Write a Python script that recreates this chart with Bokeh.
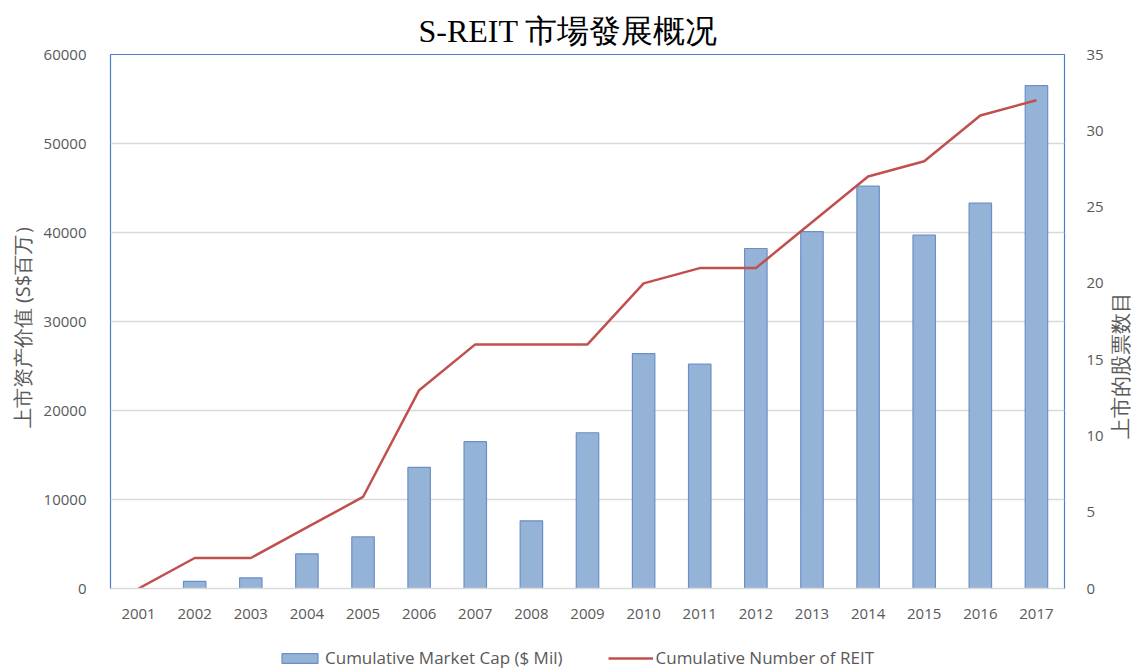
import math
from bokeh.plotting import figure
from bokeh.layouts import column, row
from bokeh.models import (ColumnDataSource, Range1d, LinearAxis, Title, Legend,
                          LegendItem, FixedTicker, NumeralTickFormatter, Label)
from bokeh.embed import file_html
from bokeh.resources import INLINE

years = ["2001", "2002", "2003", "2004", "2005", "2006", "2007", "2008", "2009",
         "2010", "2011", "2012", "2013", "2014", "2015", "2016", "2017"]
market_cap = [0, 800, 1200, 3900, 5800, 13600, 16500, 7600, 17500,
              26400, 25200, 38200, 40100, 45200, 39700, 43300, 56500]
num_reits = [0, 2, 2, 4, 6, 13, 16, 16, 16, 20, 21, 21, 24, 27, 28, 31, 32]

title_text = "S-REIT 市場發展概况"
left_label = "上市资产价值 (S$百万）"
right_label = "上市的股票数目"
bar_name = "Cumulative Market Cap ($ Mil)"
line_name = "Cumulative Number of REIT"

src = ColumnDataSource(dict(year=years, cap=market_cap, n=num_reits))

FONT = "Open Sans"
GRAY = "#595959"
BAR_FILL = "#95B3D7"
BAR_LINE = "#6A8FC8"
RED = "#C0504D"

# ---------------- main chart ----------------
p = figure(frame_width=954, frame_height=534, x_range=years, y_range=Range1d(0, 60000),
           output_backend="svg", toolbar_location=None,
           min_border_left=110, min_border_right=44, min_border_top=54,
           min_border_bottom=40)
p.title = None
p.extra_y_ranges = {"n": Range1d(0, 35)}

p.outline_line_color = "#4A7EC7"
p.outline_line_width = 1.2
p.background_fill_color = "white"
p.border_fill_color = "white"

p.xgrid.grid_line_color = None
p.ygrid.grid_line_color = "#D9D9D9"
p.ygrid.grid_line_width = 1.5
p.ygrid.ticker = FixedTicker(ticks=[0, 10000, 20000, 30000, 40000, 50000, 60000])

p.vbar(x="year", top="cap", width=0.4, source=src,
       fill_color=BAR_FILL, line_color=BAR_LINE, line_width=1.2)
p.line(x="year", y="n", source=src, y_range_name="n",
       line_color=RED, line_width=2.5)

# left axis
ya = p.yaxis[0]
ya.ticker = FixedTicker(ticks=[0, 10000, 20000, 30000, 40000, 50000, 60000])
ya.formatter = NumeralTickFormatter(format="0")
ya.axis_line_color = None
ya.major_tick_line_color = None
ya.minor_tick_line_color = None
ya.major_label_text_font = FONT
ya.major_label_text_font_size = "15px"
ya.major_label_text_color = GRAY
ya.major_label_standoff = 18
ya.axis_label = left_label
ya.axis_label_text_font = FONT
ya.axis_label_text_font_size = "20px"
ya.axis_label_text_font_style = "normal"
ya.axis_label_text_color = GRAY
ya.axis_label_standoff = 5

# x axis
xa = p.xaxis[0]
xa.axis_line_color = "#D9D9D9"
xa.axis_line_width = 1.5
xa.major_tick_line_color = None
xa.minor_tick_line_color = None
xa.major_label_text_font = FONT
xa.major_label_text_font_size = "15px"
xa.major_label_text_color = GRAY
xa.major_label_standoff = 14

# right axis
ra = LinearAxis(y_range_name="n", ticker=FixedTicker(ticks=[0, 5, 10, 15, 20, 25, 30, 35]))
ra.axis_line_color = None
ra.major_tick_line_color = None
ra.minor_tick_line_color = None
ra.major_label_text_font = FONT
ra.major_label_text_font_size = "15px"
ra.major_label_text_color = GRAY
ra.major_label_standoff = 16
p.add_layout(ra, "right")

# title
t = Title(text=title_text, align="left", offset=308,
          text_font="Liberation Serif", text_font_size="32px",
          text_font_style="normal", text_color="black",
          vertical_align="middle")
p.add_layout(t, "above")

# ---------------- right axis title strip ----------------
rf = figure(width=24, height=628, x_range=Range1d(0, 1), y_range=Range1d(0, 1),
            output_backend="svg", toolbar_location=None,
            x_axis_type=None, y_axis_type=None, min_border=0)
rf.outline_line_color = None
rf.xgrid.grid_line_color = None
rf.ygrid.grid_line_color = None
rf.add_layout(Label(x=11, y=223, x_units="screen", y_units="screen",
                    text=right_label, angle=math.pi / 2,
                    text_font=FONT, text_font_size="21px", text_color=GRAY,
                    text_align="center", text_baseline="middle"))

# ---------------- legend strip ----------------
lf = figure(width=1132, height=41, x_range=years, y_range=Range1d(-2, -1),
            output_backend="svg", toolbar_location=None,
            x_axis_type=None, y_axis_type=None, min_border=0)
lf.outline_line_color = None
lf.xgrid.grid_line_color = None
lf.ygrid.grid_line_color = None
lb = lf.vbar(x="year", top="cap", width=0.4, source=src,
             fill_color=BAR_FILL, line_color=BAR_LINE, line_width=1.2,
             visible=False)
ll = lf.line(x="year", y="n", source=src, line_color=RED, line_width=2.5,
             visible=False)

legend = Legend(items=[LegendItem(label=bar_name, renderers=[lb]),
                       LegendItem(label=line_name, renderers=[ll])],
                orientation="horizontal", location=(277, 0),
                label_text_font=FONT, label_text_font_size="17px",
                label_text_color=GRAY, border_line_color=None,
                background_fill_alpha=0, spacing=45, glyph_width=45,
                glyph_height=12, label_standoff=3, padding=0, margin=0)
lf.add_layout(legend, "center")

layout = column(row(p, rf), lf)
open("out.html", "w").write(file_html(layout, INLINE))
